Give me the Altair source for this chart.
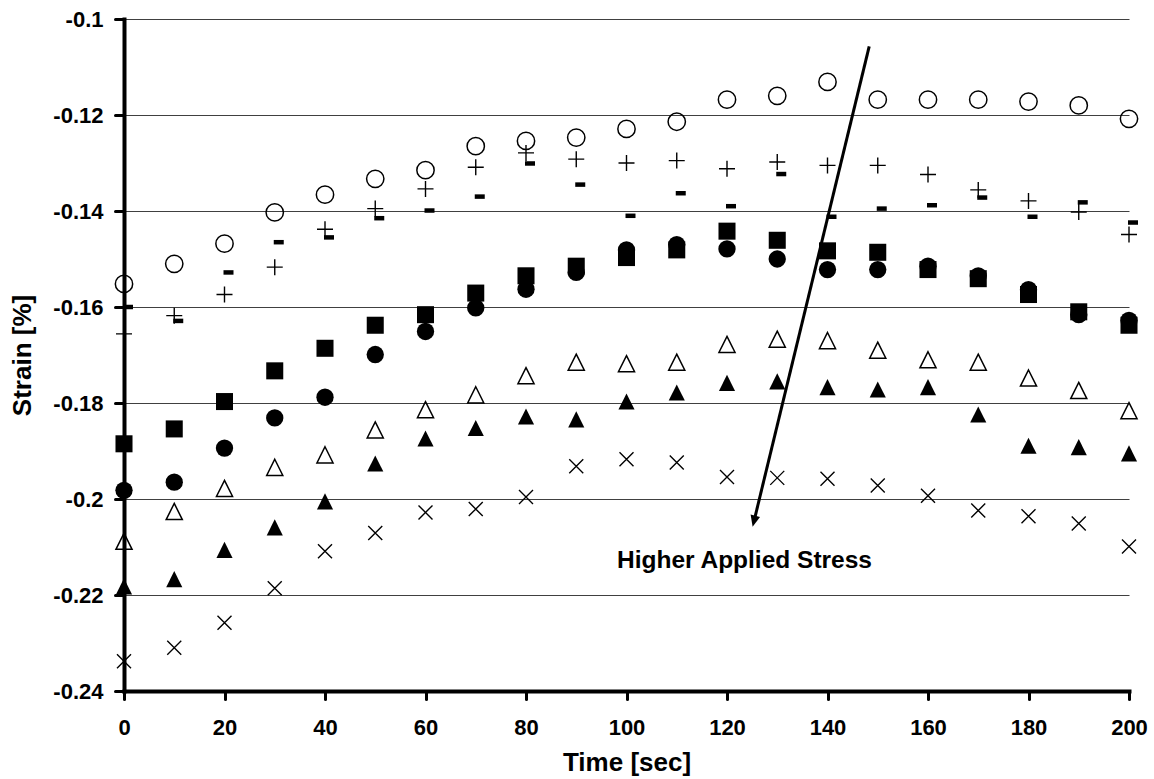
import math
import altair as alt
import pandas as pd

# ---------------- data ----------------
times = [0, 10, 20, 30, 40, 50, 60, 70, 80, 90, 100,
         110, 120, 130, 140, 150, 160, 170, 180, 190, 200]

open_circle = [-0.1552, -0.1510, -0.1468, -0.1403, -0.1366, -0.1333, -0.1315, -0.1265, -0.1254, -0.1247, -0.1229,
               -0.1214, -0.1168, -0.1160, -0.1131, -0.1168, -0.1168, -0.1168, -0.1172, -0.1180, -0.1208]
plus_s = [-0.1656, -0.1618, -0.1574, -0.1517, -0.1438, -0.1395, -0.1354, -0.1309, -0.1279, -0.1292, -0.1300,
          -0.1295, -0.1312, -0.1298, -0.1305, -0.1305, -0.1324, -0.1356, -0.1379, -0.1402, -0.1449]
dash_s = [-0.1600, -0.1629, -0.1528, -0.1465, -0.1455, -0.1415, -0.1399, -0.1370, -0.1301, -0.1345, -0.1410,
          -0.1363, -0.1390, -0.1323, -0.1412, -0.1395, -0.1388, -0.1372, -0.1412, -0.1382, -0.1424]
filled_square = [-0.1885, -0.1854, -0.1797, -0.1733, -0.1686, -0.1638, -0.1616, -0.1571, -0.1535, -0.1515, -0.1497,
                 -0.1481, -0.1442, -0.1461, -0.1483, -0.1486, -0.1522, -0.1541, -0.1574, -0.1610, -0.1638]
filled_circle = [-0.1982, -0.1965, -0.1894, -0.1831, -0.1788, -0.1699, -0.1651, -0.1602, -0.1563, -0.1528, -0.1481,
                 -0.1470, -0.1479, -0.1500, -0.1522, -0.1522, -0.1515, -0.1535, -0.1564, -0.1616, -0.1628]
open_triangle = [-0.2088, -0.2026, -0.1978, -0.1934, -0.1908, -0.1856, -0.1814, -0.1783, -0.1743, -0.1715, -0.1718,
                 -0.1715, -0.1678, -0.1667, -0.1670, -0.1690, -0.1710, -0.1715, -0.1748, -0.1774, -0.1816]
filled_triangle = [-0.2182, -0.2167, -0.2106, -0.2059, -0.2005, -0.1926, -0.1874, -0.1852, -0.1828, -0.1834, -0.1797,
                   -0.1778, -0.1758, -0.1755, -0.1767, -0.1772, -0.1767, -0.1824, -0.1889, -0.1892, -0.1905]
x_cross = [-0.2338, -0.2310, -0.2258, -0.2186, -0.2109, -0.2071, -0.2028, -0.2021, -0.1996, -0.1932, -0.1917,
           -0.1924, -0.1954, -0.1956, -0.1958, -0.1972, -0.1993, -0.2024, -0.2036, -0.2051, -0.2099]

x_ticks = [0, 20, 40, 60, 80, 100, 120, 140, 160, 180, 200]
y_ticks = [-0.24, -0.22, -0.2, -0.18, -0.16, -0.14, -0.12, -0.1]

arrow_t = [148.3, 125.1]        # start, tip
arrow_v = [-0.1057, -0.2058]
label_text = ["Higher Applied Stress"]
label_t = [98.1]
label_v = [-0.2129]

# ---------------- layout ----------------
W, H = 1005, 672
X_DOMAIN = [0, 200]
Y_DOMAIN = [-0.24, -0.1]
FONT = "Liberation Sans"

x_enc = alt.X("t:Q", scale=alt.Scale(domain=X_DOMAIN, nice=False, zero=False),
              axis=alt.Axis(values=x_ticks, title="Time [sec]", grid=False,
                            domainColor="black", domainWidth=4, domainCap="square",
                            tickColor="black", tickWidth=3, tickSize=8, tickCap="round",
                            labelFont=FONT, labelFontSize=22, labelFontWeight="bold",
                            labelColor="black", labelPadding=18, labelFlush=False,
                            titleFont=FONT, titleFontSize=26, titleFontWeight="bold",
                            titleColor="black", titleBaseline="middle", titleY=71))
y_enc = alt.Y("v:Q", scale=alt.Scale(domain=Y_DOMAIN, nice=False, zero=False),
              axis=alt.Axis(values=y_ticks, title="Strain [%]", grid=True,
                            gridColor="#404040", gridWidth=1,
                            labelExpr="replace(format(datum.value, '.2~f'), '\u2212', '-')",
                            domainColor="black", domainWidth=4, domainCap="square",
                            tickColor="black", tickWidth=3, tickSize=9, tickCap="round",
                            labelFont=FONT, labelFontSize=22, labelFontWeight="bold",
                            labelColor="black", labelPadding=12, labelFlush=False,
                            titleFont=FONT, titleFontSize=26, titleFontWeight="bold",
                            titleColor="black", titleBaseline="middle",
                            titleX=-102, titleY=H / 2, titleAngle=270))

TRI = "M0,-1L1,1L-1,1Z"
PLUS = "M-1,0L1,0M0,-1L0,1"
XCROSS = "M-1,-1L1,1M1,-1L-1,1"
DASH = "M-1,-0.45L1,-0.45L1,0.45L-1,0.45Z"

series = [
    # values, shape, filled, size, strokeWidth, xOffset
    (x_cross, XCROSS, False, 196, 1.4, 0),
    (filled_triangle, TRI, True, 260, 0, 0),
    (open_triangle, TRI, False, 260, 1.5, 0),
    (filled_circle, "circle", True, 300, 0, 0),
    (filled_square, "square", True, 290, 0, 0),
    (dash_s, DASH, True, 100, 0, 4),
    (plus_s, PLUS, False, 256, 1.4, 0),
    (open_circle, "circle", False, 300, 1.5, 0),
]

layers = []
for vals, shape, filled, size, sw, xo in series:
    df = pd.DataFrame({"t": times, "v": vals})
    kw = dict(shape=shape, filled=filled, size=size, opacity=1, xOffset=xo)
    if filled:
        kw.update(color="black", fill="black", strokeWidth=0)
    else:
        kw.update(color="black", stroke="black", strokeWidth=sw, fillOpacity=0)
    layers.append(alt.Chart(df).mark_point(**kw).encode(x=x_enc, y=y_enc))

# arrow geometry (direction in pixel space)
px_x = W / (X_DOMAIN[1] - X_DOMAIN[0])
px_y = H / (Y_DOMAIN[1] - Y_DOMAIN[0])
dx = (arrow_t[1] - arrow_t[0]) * px_x
dy = (arrow_v[0] - arrow_v[1]) * px_y
L = math.hypot(dx, dy)
ux, uy = dx / L, dy / L
back = 8.0
line_end_t = arrow_t[1] - back * ux / px_x
line_end_v = arrow_v[1] + back * uy / px_y
angle = math.degrees(math.atan2(-dx, dy)) % 360

arrow_df = pd.DataFrame({"t": [arrow_t[0]], "v": [arrow_v[0]],
                         "t2": [line_end_t], "v2": [line_end_v]})
arrow_line = alt.Chart(arrow_df).mark_rule(color="black", strokeWidth=3, strokeCap="butt").encode(
    x=x_enc, y=y_enc, x2="t2:Q", y2="v2:Q")

head_df = pd.DataFrame({"t": [arrow_t[1]], "v": [arrow_v[1]]})
arrow_head = alt.Chart(head_df).mark_point(
    shape="M0,0L-0.85,-2L0.85,-2Z", filled=True, fill="black", color="black",
    strokeWidth=0, size=130, angle=angle, opacity=1).encode(x=x_enc, y=y_enc)

label_df = pd.DataFrame({"t": label_t, "v": label_v, "txt": label_text})
label = alt.Chart(label_df).mark_text(
    align="left", baseline="middle", font=FONT, fontSize=24.5, fontWeight="bold",
    color="black").encode(x=x_enc, y=y_enc, text="txt:N")

chart = alt.layer(*layers, arrow_line, arrow_head, label).properties(
    width=W, height=H,
    autosize=alt.AutoSizeParams(type="none"),
    padding={"left": 124, "top": 19, "right": 25, "bottom": 88},
    background="white",
).configure_view(stroke=None)

chart.save("out.html", embed_options={"renderer": "svg", "actions": False})
